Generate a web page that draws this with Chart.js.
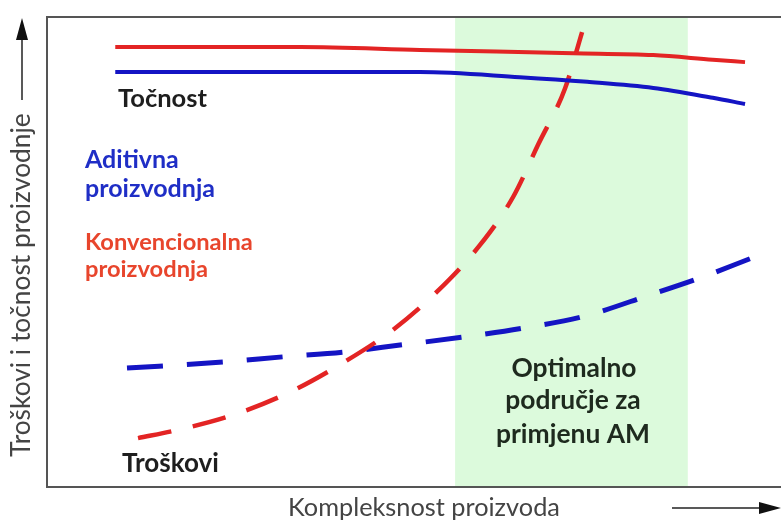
<!DOCTYPE html>
<html>
<head>
<meta charset="utf-8">
<script src="https://cdn.jsdelivr.net/npm/chart.js@4.4.1/dist/chart.umd.min.js"></script>
<style>
  html, body { margin: 0; padding: 0; background: #fff; }
  #wrap { width: 781px; height: 523px; }
</style>
</head>
<body>
<div id="wrap"><canvas id="grafik"></canvas></div>
<script>
// podaci (x = kompleksnost 0-100, y = troškovi/točnost 0-100)
const xTocnostKonv = [9.3, 34.5, 50.8, 71.7, 82.6, 90.7, 95.1];
const yTocnostKonv = [93.6, 93.6, 93.0, 92.3, 91.9, 90.9, 90.4];

const xTocnostAM = [9.3, 34.5, 50.8, 64.4, 73.6, 82.6, 90.7, 95.1];
const yTocnostAM = [88.3, 88.3, 88.3, 87.2, 86.2, 84.9, 82.8, 81.5];

const xTroskoviKonv = [12.4, 17.7, 25.3, 33.1, 40.3, 47.1, 53.1, 59.0, 63.5, 66.9, 70.6, 72.9];
const yTroskoviKonv = [10.4, 12.1, 15.3, 20.2, 26.4, 33.4, 41.5, 51.5, 61.7, 72.8, 84.9, 96.8];

const xTroskoviAM = [10.9, 24.0, 32.2, 40.3, 48.1, 56.7, 64.9, 72.9, 82.2, 89.0, 96.0];
const yTroskoviAM = [25.3, 26.6, 27.7, 28.7, 30.2, 31.9, 33.8, 36.2, 40.9, 44.5, 48.7];

const optimalnoPodrucje = [55.6, 87.3];

const crvena = '#e32424';
const plava = '#1414c4';

const tocke = (xs, ys) => xs.map((x, i) => ({ x: x, y: ys[i] }));

// prilagodi veličinu fonta širini teksta
function fitSize(ctx, text, width, weight, family) {
    ctx.font = `${weight} 20px ${family}`;
    return 20 * width / ctx.measureText(text).width;
}

function strelica(ctx, x1, y1, x2, y2) {
    const ang = Math.atan2(y2 - y1, x2 - x1);
    const len = 22;
    ctx.beginPath();
    ctx.moveTo(x1, y1);
    ctx.lineTo(x2 - Math.cos(ang) * len * 0.8, y2 - Math.sin(ang) * len * 0.8);
    ctx.stroke();
    ctx.beginPath();
    ctx.moveTo(x2, y2);
    ctx.lineTo(x2 - Math.cos(ang) * len + Math.sin(ang) * 6, y2 - Math.sin(ang) * len - Math.cos(ang) * 6);
    ctx.lineTo(x2 - Math.cos(ang) * len - Math.sin(ang) * 6, y2 - Math.sin(ang) * len + Math.cos(ang) * 6);
    ctx.closePath();
    ctx.fill();
}

const pozadinaPlugin = {
    id: 'pozadina',
    beforeDatasetsDraw(chart) {
        const { ctx, chartArea, scales } = chart;
        const x1 = scales.x.getPixelForValue(optimalnoPodrucje[0]);
        const x2 = scales.x.getPixelForValue(optimalnoPodrucje[1]);
        ctx.save();
        ctx.fillStyle = '#dcfadc';
        ctx.fillRect(x1, chartArea.top, x2 - x1, chartArea.bottom - chartArea.top);
        ctx.restore();
    }
};

const oznakePlugin = {
    id: 'oznake',
    afterDraw(chart) {
        const { ctx, chartArea } = chart;
        ctx.save();

        // okvir
        ctx.strokeStyle = '#555';
        ctx.lineWidth = 2;
        ctx.beginPath();
        ctx.moveTo(781, chartArea.top);
        ctx.lineTo(chartArea.left, chartArea.top);
        ctx.lineTo(chartArea.left, chartArea.bottom);
        ctx.lineTo(781, chartArea.bottom);
        ctx.stroke();

        const fam = 'Lato, "Open Sans", sans-serif';
        ctx.textBaseline = 'alphabetic';

        // oznake unutar grafa
        ctx.textAlign = 'left';
        let s = fitSize(ctx, 'Točnost', 89, 'bold', fam);
        ctx.font = `bold ${s}px ${fam}`;
        ctx.fillStyle = '#1e1e1e';
        ctx.fillText('Točnost', 118, 107);

        s = fitSize(ctx, 'proizvodnja', 130, 'bold', fam);
        ctx.font = `bold ${s}px ${fam}`;
        ctx.fillStyle = '#1f2ec6';
        ctx.fillText('Aditivna', 85, 168);
        ctx.fillText('proizvodnja', 85, 197);

        s = fitSize(ctx, 'Konvencionalna', 168, 'bold', fam);
        ctx.font = `bold ${s}px ${fam}`;
        ctx.fillStyle = '#e8452c';
        ctx.fillText('Konvencionalna', 85, 250);
        ctx.fillText('proizvodnja', 85, 277);

        s = fitSize(ctx, 'Troškovi', 97, 'bold', fam);
        ctx.font = `bold ${s}px ${fam}`;
        ctx.fillStyle = '#1e1e1e';
        ctx.fillText('Troškovi', 122, 472);

        ctx.textAlign = 'center';
        s = fitSize(ctx, 'primjenu AM', 154, 'bold', fam);
        ctx.font = `bold ${s}px ${fam}`;
        ctx.fillStyle = '#1e2a1e';
        ctx.fillText('Optimalno', 574, 377);
        ctx.fillText('područje za', 573, 409);
        ctx.fillText('primjenu AM', 573, 443);

        // naslovi osi
        ctx.fillStyle = '#444';
        s = fitSize(ctx, 'Kompleksnost proizvoda', 272, 'normal', fam);
        ctx.font = `normal ${s}px ${fam}`;
        ctx.textAlign = 'left';
        ctx.fillText('Kompleksnost proizvoda', 288, 516);

        ctx.save();
        ctx.translate(30, 457);
        ctx.rotate(-Math.PI / 2);
        s = fitSize(ctx, 'Troškovi i točnost proizvodnje', 344, 'normal', fam);
        ctx.font = `normal ${s}px ${fam}`;
        ctx.fillText('Troškovi i točnost proizvodnje', 0, 0);
        ctx.restore();

        // strelice
        ctx.strokeStyle = '#222';
        ctx.fillStyle = '#111';
        ctx.lineWidth = 1.5;
        strelica(ctx, 22, 100, 22, 18);
        strelica(ctx, 672, 508, 781, 508);

        ctx.restore();
    }
};

new Chart(document.getElementById('grafik').getContext('2d'), {
    type: 'line',
    data: {
        datasets: [
            {
                label: 'Točnost - konvencionalna proizvodnja',
                data: tocke(xTocnostKonv, yTocnostKonv),
                borderColor: crvena,
                borderWidth: 4
            },
            {
                label: 'Točnost - aditivna proizvodnja',
                data: tocke(xTocnostAM, yTocnostAM),
                borderColor: plava,
                borderWidth: 4
            },
            {
                label: 'Troškovi - konvencionalna proizvodnja',
                data: tocke(xTroskoviKonv, yTroskoviKonv),
                borderColor: crvena,
                borderWidth: 4.5,
                borderDash: [34, 22]
            },
            {
                label: 'Troškovi - aditivna proizvodnja',
                data: tocke(xTroskoviAM, yTroskoviAM),
                borderColor: plava,
                borderWidth: 5,
                borderDash: [36, 24]
            }
        ]
    },
    options: {
        responsive: true,
        maintainAspectRatio: false,
        animation: false,
        layout: { padding: { left: 47, top: 17, right: 0, bottom: 36 } },
        elements: {
            point: { radius: 0 },
            line: { cubicInterpolationMode: 'monotone', fill: false }
        },
        scales: {
            x: { type: 'linear', min: 0, max: 100, display: false },
            y: { min: 0, max: 100, display: false }
        },
        plugins: {
            legend: { display: false },
            tooltip: { enabled: false }
        }
    },
    plugins: [pozadinaPlugin, oznakePlugin]
});
</script>
</body>
</html>
